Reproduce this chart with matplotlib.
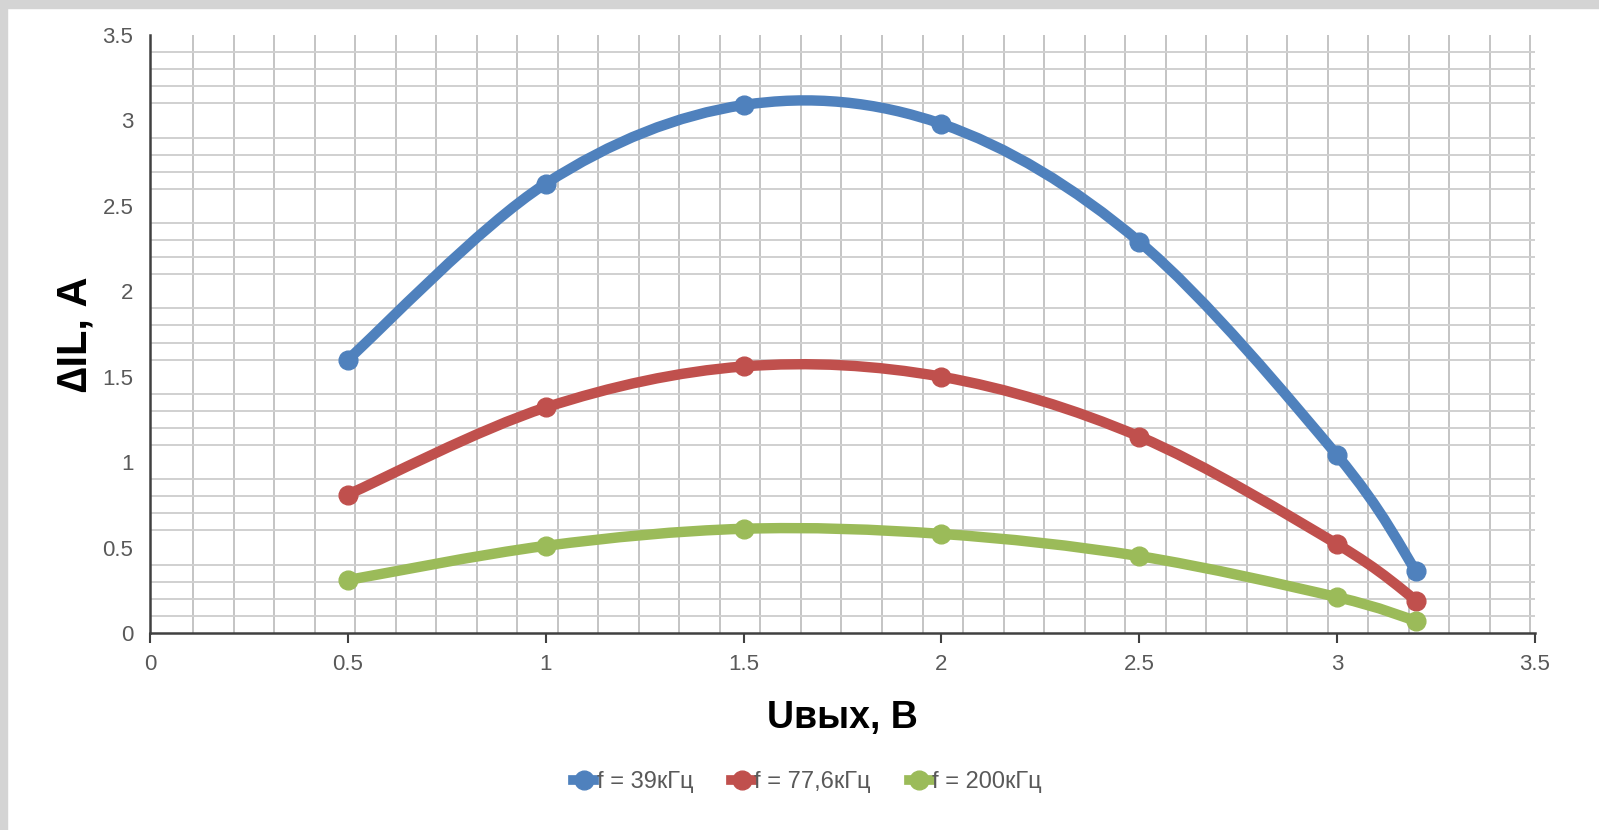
import numpy as np
import matplotlib
matplotlib.use('Agg')
import matplotlib.pyplot as plt
from matplotlib.path import Path
from matplotlib.patches import PathPatch, Rectangle
from matplotlib.lines import Line2D

plt.rcParams['font.family'] = ['Liberation Sans', 'DejaVu Sans']

# data
u_out = [0.5, 1.0, 1.5, 2.0, 2.5, 3.0, 3.2]
di_39 = [1.60, 2.63, 3.09, 2.98, 2.29, 1.04, 0.36]
di_77 = [0.81, 1.32, 1.56, 1.50, 1.15, 0.52, 0.19]
di_200 = [0.31, 0.51, 0.61, 0.58, 0.45, 0.21, 0.07]
labels = ['f = 39кГц', 'f = 77,6кГц', 'f = 200кГц']
colors = ['#4F81BD', '#C0504D', '#9BBB59']
xticks = [0, 0.5, 1, 1.5, 2, 2.5, 3, 3.5]
yticks = [0, 0.5, 1, 1.5, 2, 2.5, 3, 3.5]


def smooth_path(x, y):
    # excel-like smoothed line: cubic bezier between the points
    p = np.column_stack([x, y])
    n = len(p)
    verts = [p[0]]
    codes = [Path.MOVETO]
    for i in range(n - 1):
        p0 = p[i - 1] if i > 0 else p[i]
        p3 = p[i + 2] if i + 2 < n else p[i + 1]
        c1 = p[i] + (p[i + 1] - p0) / 6
        c2 = p[i + 1] - (p3 - p[i]) / 6
        verts += [c1, c2, p[i + 1]]
        codes += [Path.CURVE4] * 3
    return Path(verts, codes)


fig = plt.figure(figsize=(15.99, 8.30), dpi=100)
fig.patch.set_facecolor('white')
# gray frame on top and left
fig.patches.append(Rectangle((0, 1 - 8 / 830), 1, 8 / 830, transform=fig.transFigure,
                             color='#d4d4d4', zorder=0))
fig.patches.append(Rectangle((0, 0), 7 / 1599, 1, transform=fig.transFigure,
                             color='#d4d4d4', zorder=0))

ax = fig.add_axes([150 / 1599, 1 - 633 / 830, (1535 - 150) / 1599, (633 - 35) / 830])
ax.set_xlim(0, 3.5)
ax.set_ylim(0, 3.5)

# grid
for gx in np.arange(0.109, 3.5, 0.1024):
    ax.axvline(gx, color='#c4c4c4', lw=1.4, zorder=0)
for k in range(1, 35):
    if k % 5 != 0:
        ax.axhline(k / 10, color='#d0d0d0', lw=1.4, zorder=0)

for ys, c in zip([di_39, di_77, di_200], colors):
    ax.add_patch(PathPatch(smooth_path(u_out, ys), fill=False, edgecolor=c, lw=7.5,
                           capstyle='round', joinstyle='round', zorder=3))
    ax.plot(u_out, ys, 'o', color=c, ms=13.5, zorder=4)

ax.set_xticks(xticks)
ax.set_xticklabels([f'{v:g}' for v in xticks])
ax.set_yticks(yticks)
ax.set_yticklabels([f'{v:g}' for v in yticks])
ax.tick_params(axis='x', direction='out', length=7, width=1.5, color='#404040',
               labelsize=16, labelcolor='#595959', pad=8)
ax.tick_params(axis='y', length=0, labelsize=16, labelcolor='#595959', pad=12)

for s in ['top', 'right']:
    ax.spines[s].set_visible(False)
for s in ['left', 'bottom']:
    ax.spines[s].set_color('#404040')
    ax.spines[s].set_linewidth(1.8)

ax.set_xlabel('Uвых, В', fontsize=27, fontweight='bold', labelpad=18)
ax.set_ylabel('∆IL, А', fontsize=30, fontweight='bold', labelpad=5)

handles = [Line2D([0], [0], color=c, lw=7, marker='o', ms=13.5) for c in colors]
fig.legend(handles, labels, loc='center', bbox_to_anchor=(0.505, 0.058), ncol=3,
           frameon=False, fontsize=17, handlelength=0.9, handletextpad=0.1,
           columnspacing=1.6, labelcolor='#595959')

fig.savefig('out.png', dpi=100)
